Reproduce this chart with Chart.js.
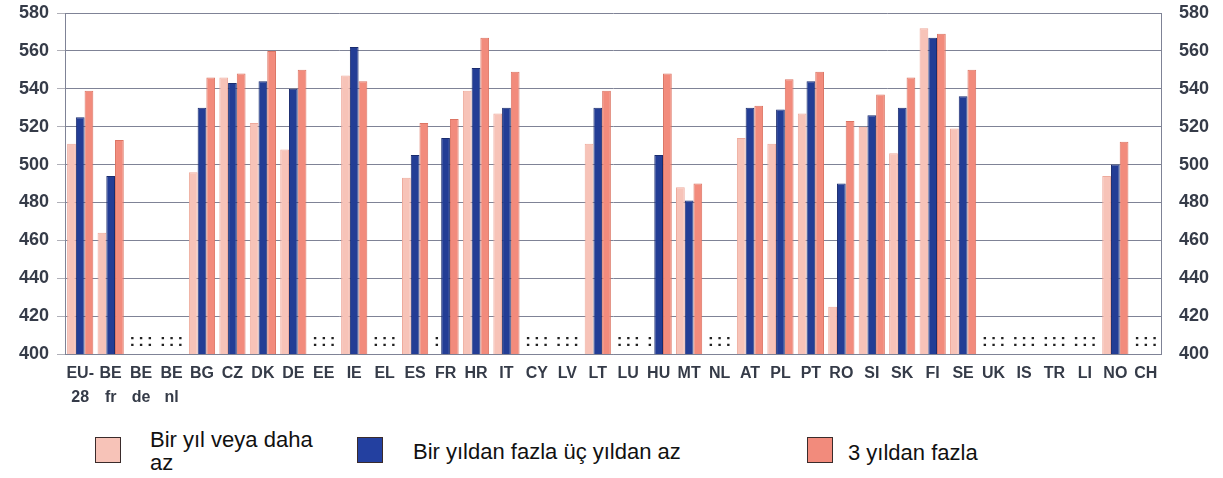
<!DOCTYPE html>
<html>
<head>
<meta charset="utf-8">
<script src="https://cdn.jsdelivr.net/npm/chart.js@4.4.1/dist/chart.umd.min.js"></script>
<style>
	body { margin:0; background:#fff; }
	#wrap { position:relative; width:1223px; height:478px; }
	#chartBox { position:absolute; left:0; top:0; width:1223px; height:410px; }
	.lg-box { position:absolute; width:24px; height:24px; border:1.5px solid #3a2b2b; }
	.lg-txt { position:absolute; font-family:"Liberation Sans", Arial, sans-serif; font-size:22px; line-height:23px; color:#111; }
</style>
</head>
<body>
<div id="wrap">
	<div id="chartBox"><canvas id="skillChart"></canvas></div>
	<div class="lg-box" style="left:95px;top:437px;background:#f7c3b8;"></div>
	<div class="lg-txt" style="left:150px;top:428px;width:180px;">Bir yıl veya daha az</div>
	<div class="lg-box" style="left:357px;top:437px;background:#2340a0;"></div>
	<div class="lg-txt" style="left:413px;top:440px;">Bir yıldan fazla üç yıldan az</div>
	<div class="lg-box" style="left:807px;top:437px;background:#f28b7c;"></div>
	<div class="lg-txt" style="left:848px;top:441px;">3 yıldan fazla</div>
</div>
<script>
// 국가 목록 (하단 레이블)
const countries = [
	['EU-', '28'], ['BE', 'fr'], ['BE', 'de'], ['BE', 'nl'], 'BG', 'CZ', 'DK', 'DE', 'EE', 'IE', 'EL', 'ES',
	'FR', 'HR', 'IT', 'CY', 'LV', 'LT', 'LU', 'HU', 'MT', 'NL', 'AT', 'PL', 'PT', 'RO', 'SI', 'SK',
	'FI', 'SE', 'UK', 'IS', 'TR', 'LI', 'NO', 'CH'
];
const yTicks = [400, 420, 440, 460, 480, 500, 520, 540, 560, 580];

// 시리즈 값 (null = ":" 표시)
const oneYearOrLess = [511, 464, null, null, 496, 546, 522, 508, null, 547, null, 493,
	null, 539, 527, null, null, 511, null, null, 488, null, 514, 511, 527, 425, 520, 506,
	572, 519, null, null, null, null, 494, null];
const oneToThreeYears = [525, 494, null, null, 530, 543, 544, 540, null, 562, null, 505,
	514, 551, 530, null, null, 530, null, 505, 481, null, 530, 529, 544, 490, 526, 530,
	567, 536, null, null, null, null, 500, null];
const overThreeYears = [539, 513, null, null, 546, 548, 560, 550, null, 544, null, 522,
	524, 567, 549, null, null, 539, null, 548, 490, null, 531, 545, 549, 523, 537, 546,
	569, 550, null, null, null, null, 512, null];

const labelColor = '#353b48';
const gridColor = '#7f8396';

// 값이 없는 막대 자리에 ":" 표시
const missingMark = {
	id: 'missingMark',
	afterDatasetsDraw(chart) {
		const ctx = chart.ctx;
		ctx.save();
		ctx.font = 'bold 17px "Liberation Sans", Arial, sans-serif';
		ctx.fillStyle = '#222';
		ctx.textAlign = 'center';
		ctx.textBaseline = 'middle';
		chart.data.datasets.forEach((ds, di) => {
			const meta = chart.getDatasetMeta(di);
			ds.data.forEach((v, i) => {
				if (v === null) {
					ctx.fillText(':', meta.data[i].x, chart.chartArea.bottom - 13);
				}
			});
		});
		ctx.restore();
	}
};

const tickFont = { family: '"Liberation Sans", Arial, sans-serif', size: 18, weight: 'bold' };

new Chart(document.getElementById('skillChart'), {
	type: 'bar',
	data: {
		labels: countries,
		datasets: [
			{ label: 'Bir yıl veya daha az', data: oneYearOrLess, backgroundColor: '#f7c3b8', borderColor: '#eeaa9c', borderWidth: 1 },
			{ label: 'Bir yıldan fazla üç yıldan az', data: oneToThreeYears, backgroundColor: '#233d95', borderColor: '#1a2c6e', borderWidth: 1 },
			{ label: '3 yıldan fazla', data: overThreeYears, backgroundColor: '#f28b7c', borderColor: '#dc7463', borderWidth: 1 }
		]
	},
	options: {
		responsive: true,
		maintainAspectRatio: false,
		animation: false,
		categoryPercentage: 0.86,
		barPercentage: 1.0,
		layout: { padding: { top: 13, right: 0, left: 0, bottom: 0 } },
		plugins: { legend: { display: false }, tooltip: { enabled: false } },
		scales: {
			x: {
				grid: { display: false },
				border: { color: gridColor },
				ticks: {
					color: labelColor,
					font: { family: '"Liberation Sans", Arial, sans-serif', size: 16, weight: 'bold', lineHeight: 1.5 },
					maxRotation: 0, autoSkip: false, padding: 0
				},
				afterFit: (s) => { s.height = 56; }
			},
			y: {
				position: 'left',
				min: 400, max: 580,
				afterBuildTicks: (s) => { s.ticks = yTicks.map(v => ({ value: v })); },
				grid: { color: gridColor, tickLength: 8, tickColor: '#b0b0b8' },
				border: { color: gridColor },
				ticks: { color: labelColor, font: tickFont, padding: 8 },
				afterFit: (s) => { s.width = 65; s.paddingTop = 0; s.paddingBottom = 0; }
			},
			y2: {
				position: 'right',
				min: 400, max: 580,
				afterBuildTicks: (s) => { s.ticks = yTicks.map(v => ({ value: v })); },
				grid: { display: false },
				border: { color: gridColor },
				ticks: { color: labelColor, font: tickFont, padding: 10 },
				afterFit: (s) => { s.width = 62; s.paddingTop = 0; s.paddingBottom = 0; }
			}
		}
	},
	plugins: [missingMark]
});
</script>
</body>
</html>
